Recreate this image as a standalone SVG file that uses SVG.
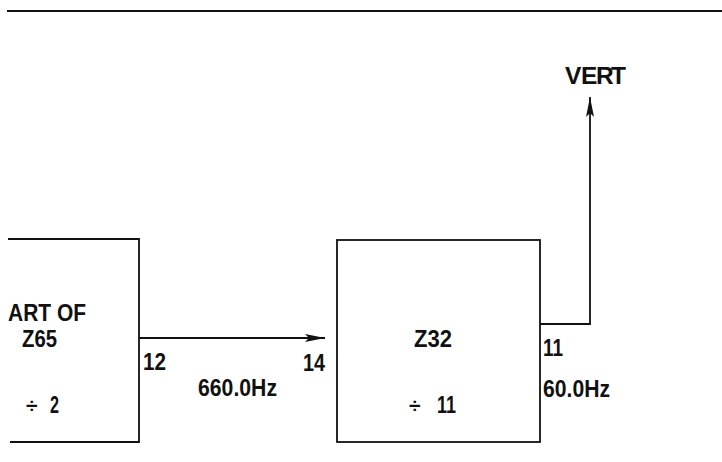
<svg xmlns="http://www.w3.org/2000/svg" width="722" height="462" viewBox="0 0 722 462">
<defs>
<style>
.ln{fill:none;stroke:#111;stroke-width:1.8}
.t{font-family:"Liberation Sans",Arial,sans-serif;font-weight:bold;fill:#111;font-size:24.5px}
.s{font-size:21px}
</style>
<marker id="ah" markerWidth="20" markerHeight="10" refX="20" refY="5" orient="auto" markerUnits="userSpaceOnUse">
<path d="M0,1 L20,5 L0,9 L4,5 Z" fill="#111"/>
</marker>
</defs>
<rect width="722" height="462" fill="#fff"/>
<line class="ln" x1="7" y1="11" x2="722" y2="11" stroke-width="2.2"/>
<g id="z65">
<path class="ln" d="M8 239 H139 V442 H10"/>
<text class="t" x="8" y="321" textLength="78" lengthAdjust="spacingAndGlyphs">ART OF</text>
<text class="t" x="22" y="347" textLength="35" lengthAdjust="spacingAndGlyphs">Z65</text>
<text class="t s" x="26" y="413">÷</text>
<text class="t" x="50" y="413" textLength="9" lengthAdjust="spacingAndGlyphs">2</text>
<text class="t" x="143" y="370" textLength="23" lengthAdjust="spacingAndGlyphs">12</text>
</g>
<g id="z32">
<rect class="ln" x="337" y="240" width="203" height="202"/>
<text class="t" x="414" y="347" textLength="38" lengthAdjust="spacingAndGlyphs">Z32</text>
<text class="t s" x="409" y="413">÷</text>
<text class="t" x="437" y="413" textLength="19" lengthAdjust="spacingAndGlyphs">11</text>
<text class="t" x="303" y="371" textLength="22" lengthAdjust="spacingAndGlyphs">14</text>
<text class="t" x="543" y="356" textLength="20" lengthAdjust="spacingAndGlyphs">11</text>
</g>
<g id="vert">
<text class="t" x="565 581 596 611" y="84" font-size="19">VERT</text>
</g>
<g id="connectors">
<line class="ln" x1="139" y1="338" x2="325" y2="338" marker-end="url(#ah)"/>
<polyline class="ln" points="540,324 590,324 590,97" marker-end="url(#ah)"/>
<text class="t" x="198" y="396" textLength="79" lengthAdjust="spacingAndGlyphs">660.0Hz</text>
<text class="t" x="543" y="397" textLength="67" lengthAdjust="spacingAndGlyphs">60.0Hz</text>
</g>
</svg>
